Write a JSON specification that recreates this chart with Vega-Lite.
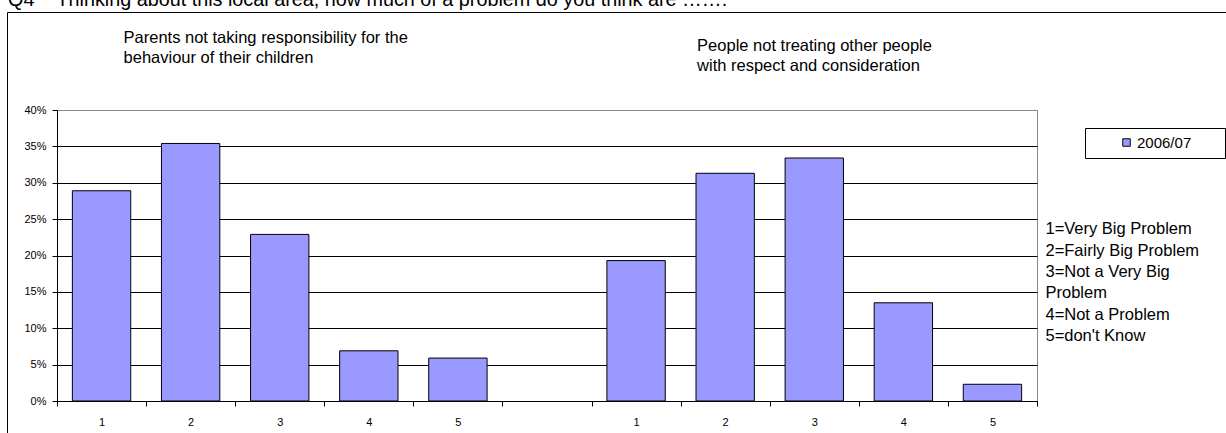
{
  "$schema": "https://vega.github.io/schema/vega-lite/v6.json",
  "width": 980,
  "height": 291,
  "autosize": {"type": "none"},
  "padding": {"left": 57, "top": 110, "right": 189, "bottom": 32},
  "background": "white",
  "config": {
    "font": "Liberation Sans",
    "view": {"stroke": "#888", "strokeWidth": 1},
    "text": {"font": "Liberation Sans", "color": "#000"}
  },
  "data": {
    "values": [
      {"cat": "a1", "value": 0.289, "series": "2006/07"},
      {"cat": "a2", "value": 0.354, "series": "2006/07"},
      {"cat": "a3", "value": 0.229, "series": "2006/07"},
      {"cat": "a4", "value": 0.069, "series": "2006/07"},
      {"cat": "a5", "value": 0.059, "series": "2006/07"},
      {"cat": "b1", "value": 0.193, "series": "2006/07"},
      {"cat": "b2", "value": 0.313, "series": "2006/07"},
      {"cat": "b3", "value": 0.334, "series": "2006/07"},
      {"cat": "b4", "value": 0.135, "series": "2006/07"},
      {"cat": "b5", "value": 0.023, "series": "2006/07"}
    ]
  },
  "layer": [
    {
      "mark": {"type": "bar", "width": {"band": 0.655}, "strokeWidth": 1},
      "encoding": {
        "x": {
          "field": "cat",
          "type": "nominal",
          "scale": {
            "domain": ["a1", "a2", "a3", "a4", "a5", "gap", "b1", "b2", "b3", "b4", "b5"],
            "paddingInner": 0,
            "paddingOuter": 0
          },
          "axis": {
            "title": null,
            "labelAngle": 0,
            "labelExpr": "(!datum.value || datum.value == 'gap') ? '' : substring(datum.value, 1)",
            "tickBand": "extent",
            "grid": false,
            "domainColor": "#000",
            "tickColor": "#000",
            "tickSize": 5,
            "labelFontSize": 11,
            "labelColor": "#000",
            "labelPadding": 10,
            "labelFont": "Liberation Sans"
          }
        },
        "y": {
          "field": "value",
          "type": "quantitative",
          "scale": {"domain": [0, 0.4], "nice": false},
          "axis": {
            "title": null,
            "tickCount": 8,
            "format": ".0%",
            "grid": true,
            "labelOverlap": false,
            "gridColor": {"condition": {"test": "datum.value >= 0.39", "value": "#888"}, "value": "#000"},
            "gridWidth": 1,
            "domainColor": "#000",
            "tickColor": "#000",
            "tickSize": 5,
            "labelPadding": 6,
            "labelFontSize": 11,
            "labelColor": "#000",
            "labelFont": "Liberation Sans"
          }
        },
        "fill": {
          "field": "series",
          "type": "nominal",
          "scale": {"range": ["#9999FF"]},
          "legend": {
            "title": "MM",
            "titleOrient": "right",
            "titleOpacity": 0,
            "titleFontSize": 15,
            "titlePadding": 2,
            "orient": "none",
            "legendX": 1028,
            "legendY": 18,
            "padding": 7,
            "strokeColor": "#000",
            "symbolType": "square",
            "symbolSize": 56,
            "symbolStrokeColor": "#000",
            "symbolStrokeWidth": 1,
            "symbolOffset": 27,
            "labelOffset": 3,
            "labelFontSize": 15,
            "labelColor": "#000",
            "labelFont": "Liberation Sans"
          }
        },
        "stroke": {
          "field": "value",
          "type": "quantitative",
          "scale": {"range": ["#000000", "#000000"]},
          "legend": {
            "title": null,
            "orient": "none",
            "direction": "horizontal",
            "legendX": -50,
            "legendY": -98,
            "padding": 0,
            "gradientLength": 1300,
            "gradientThickness": 500,
            "gradientOpacity": 0,
            "gradientStrokeWidth": 0,
            "labelExpr": "''",
            "labelOpacity": 0,
            "labelFontSize": 1,
            "strokeColor": "#000"
          }
        }
      }
    },
    {
      "data": {"values": [{}]},
      "mark": {"type": "text", "align": "left", "baseline": "alphabetic", "fontSize": 16.5, "lineHeight": 20, "dx": 22},
      "encoding": {
        "x": {"datum": "a1"},
        "y": {"datum": 0.4924},
        "text": {"value": ["Parents not taking responsibility for the", "behaviour of their children"]}
      }
    },
    {
      "data": {"values": [{}]},
      "mark": {"type": "text", "align": "left", "baseline": "alphabetic", "fontSize": 16.5, "lineHeight": 20, "dx": 61},
      "encoding": {
        "x": {"datum": "b1"},
        "y": {"datum": 0.4814},
        "text": {"value": ["People not treating other people", "with respect and consideration"]}
      }
    },
    {
      "data": {"values": [{}]},
      "mark": {"type": "text", "align": "left", "baseline": "alphabetic", "fontSize": 16.5, "lineHeight": 21.3, "dx": 53},
      "encoding": {
        "x": {"datum": "b5"},
        "y": {"datum": 0.2289},
        "text": {"value": ["1=Very Big Problem", "2=Fairly Big Problem", "3=Not a Very Big", "Problem", "4=Not a Problem", "5=don't Know"]}
      }
    },
    {
      "data": {"values": [{}]},
      "mark": {"type": "text", "align": "left", "baseline": "alphabetic", "fontSize": 19.8, "dx": -93.5},
      "encoding": {
        "x": {"datum": "a1"},
        "y": {"datum": 0.5429},
        "text": {"value": "Q4\u00a0\u00a0\u00a0\u00a0Thinking about this local area, how much of a problem do you think are ……."}
      }
    }
  ]
}
